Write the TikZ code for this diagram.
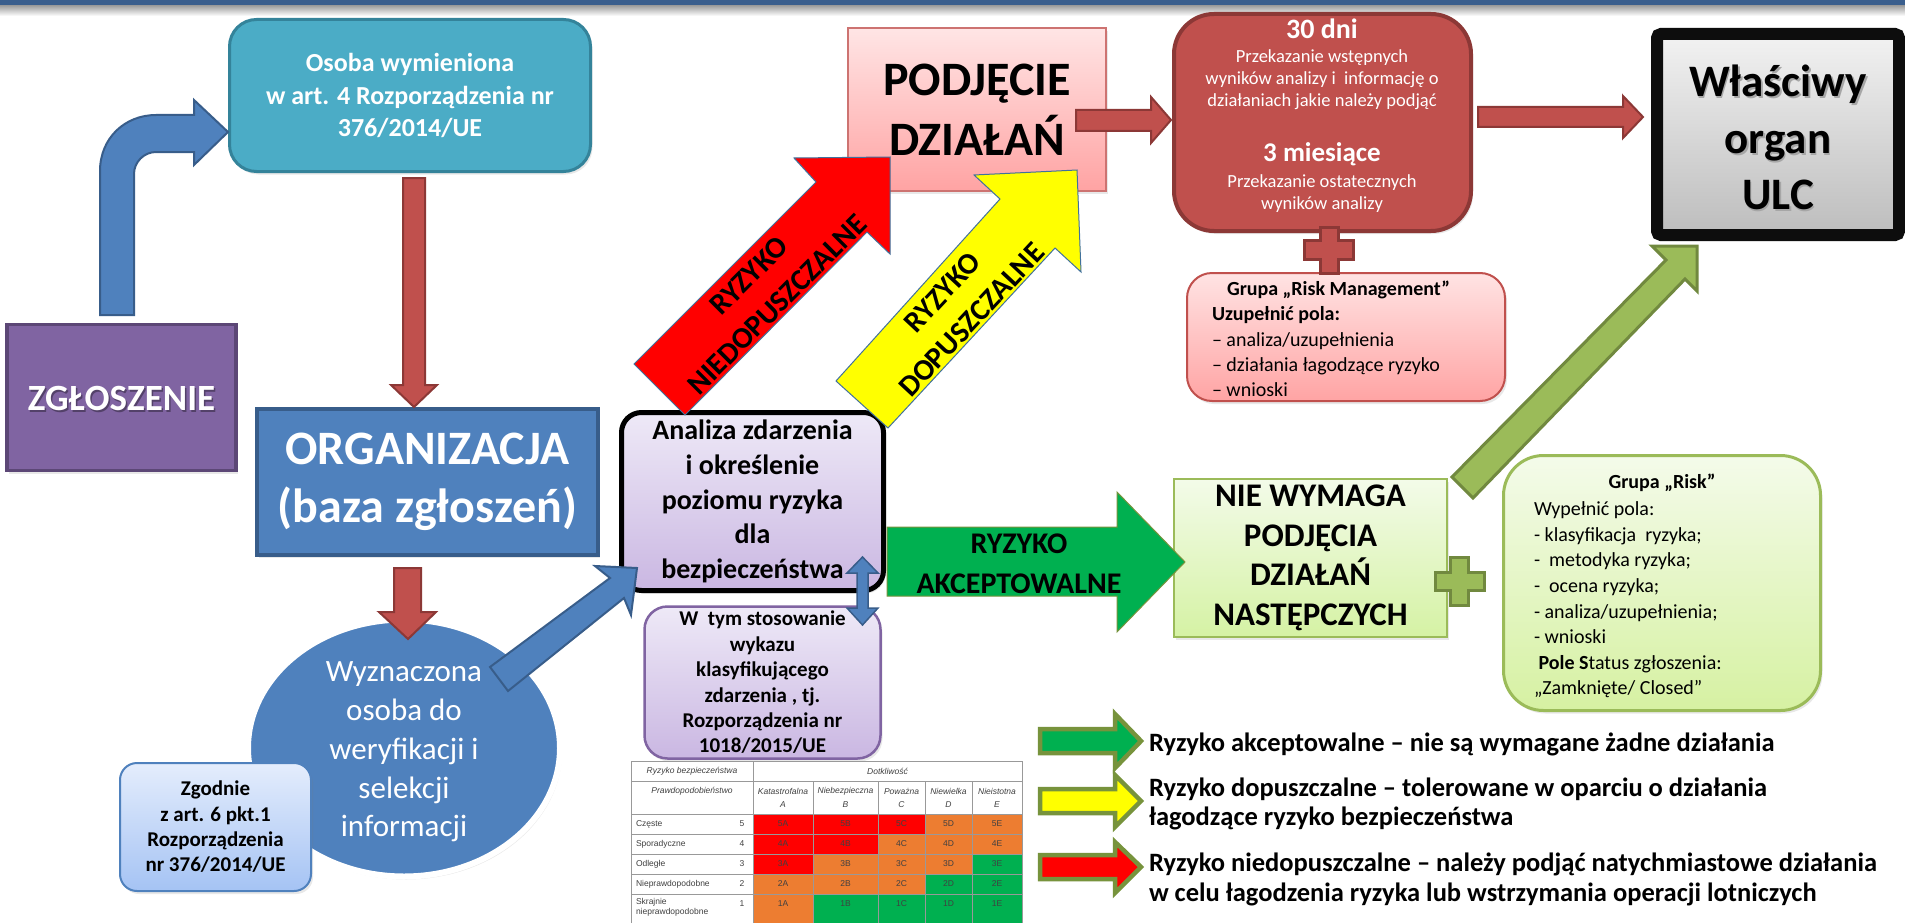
\documentclass[tikz,border=0pt]{standalone}
\usepackage{fontspec}
\setmainfont{Carlito}
\newfontfamily\tabfont{Liberation Sans}
\usetikzlibrary{shadows,shapes.geometric}
\definecolor{topbar}{HTML}{3A5E8D}
\definecolor{osobaF}{HTML}{4BACC6}
\definecolor{osobaD}{HTML}{34839A}
\definecolor{blueF}{HTML}{4F81BD}
\definecolor{blueD}{HTML}{385D8A}
\definecolor{purF}{HTML}{8064A2}
\definecolor{purD}{HTML}{5C4776}
\definecolor{redF}{HTML}{C0504D}
\definecolor{redD}{HTML}{8C3836}
\definecolor{greenF}{HTML}{9BBB59}
\definecolor{greenD}{HTML}{71893F}
\definecolor{accG}{HTML}{00B050}
\definecolor{legOlive}{HTML}{77933C}
\definecolor{mxRed}{HTML}{FF0000}
\definecolor{mxOr}{HTML}{ED7D31}
\definecolor{mxGr}{HTML}{00B050}
\definecolor{yel}{HTML}{FFFF00}
\definecolor{arrEdge}{HTML}{41719C}
\definecolor{pdTop}{HTML}{FFE5E5}
\definecolor{pdBot}{HTML}{FFA3A3}
\definecolor{anTop}{HTML}{EEE9F7}
\definecolor{anBot}{HTML}{CAB7E2}
\definecolor{zgTop}{HTML}{E4EDFC}
\definecolor{zgBot}{HTML}{A5C3F4}
\definecolor{rmTop}{HTML}{FFE3E3}
\definecolor{rmBot}{HTML}{FFA4A4}
\definecolor{wlTop}{HTML}{F2F2F2}
\definecolor{wlBot}{HTML}{BDBDBD}
\definecolor{wlBorder}{HTML}{0D0D0D}
\definecolor{nwTop}{HTML}{F3FBE9}
\definecolor{nwBot}{HTML}{D5F2A4}
\definecolor{grTop}{HTML}{F4FBEA}
\definecolor{grBot}{HTML}{D6F1A2}
\newcommand\FS[2]{\fontsize{#1}{#2}\selectfont}
\tikzset{
  every node/.style={inner sep=0pt, outer sep=0pt},
  shd/.style={drop shadow={shadow xshift=2pt, shadow yshift=-3pt, opacity=0.18}},
  boxnode/.style={rectangle, align=center},
  barrow/.style={line width=2pt, line join=miter},
  legarrow/.style={draw=legOlive, line width=4.5pt, line join=miter},
  plussign/.style={fill=#1F, draw=#1D, line width=3pt},
  tabline/.style={draw=black!40, line width=0.8pt},
}
\begin{document}
\begin{tikzpicture}[x=1pt,y=-1pt]
\useasboundingbox (0,0) rectangle (1905,923);
\fill[white] (0,0) rectangle (1905,923);
% top bar
\shade[top color=black!40, bottom color=white] (0,5) rectangle (1905,16);
\fill[topbar] (0,0) rectangle (1905,5);

% ---------- boxes ----------
\node[boxnode, shd, fill=osobaF, draw=osobaD, line width=3pt, rounded corners=27pt,
  minimum width=361pt, minimum height=152pt, text=white, font=\FS{26}{32.5}\bfseries]
  (osoba) at (410,95.5) {Osoba wymieniona\\w art. 4 Rozporządzenia nr\\376/2014/UE};

\node[boxnode, shd, fill=purF, draw=purD, line width=3.5pt,
  minimum width=229pt, minimum height=146pt] (zgl) at (121.5,397.5) {};
\node[text=black, opacity=0.35, font=\FS{37}{40}\bfseries] (zglsh) at (123,400) {ZGŁOSZENIE};
\node[text=white, font=\FS{37}{40}\bfseries] (zgltxt) at (121.5,398.5) {ZGŁOSZENIE};

\node[boxnode, shd, fill=blueF, draw=blueD, line width=3.5pt,
  minimum width=341pt, minimum height=146pt, text=white, font=\FS{48}{58}\bfseries]
  (org) at (427.5,482) {ORGANIZACJA\\(baza zgłoszeń)};

\node[ellipse, shd, fill=blueF, draw=white, line width=6pt,
  minimum width=312pt, minimum height=257pt] (osw) at (404,748) {};
\node[text=white, align=center, font=\FS{31}{38.75}] (oswtxt) at (404,752)
  {Wyznaczona\\osoba do\\weryfikacji i\\selekcji\\informacji};

\node[boxnode, shd, top color=zgTop, bottom color=zgBot, draw=blueF, line width=2pt,
  rounded corners=17pt, minimum width=191pt, minimum height=128pt, font=\FS{21}{25.3}\bfseries]
  (zgod) at (215.5,827) {Zgodnie\\z art. 6 pkt.1\\Rozporządzenia\\nr 376/2014/UE};

\node[boxnode, shd, top color=anTop, bottom color=anBot, draw=black, line width=5pt,
  rounded corners=20pt, minimum width=262pt, minimum height=178pt, font=\FS{28}{34.75}\bfseries]
  (anal) at (752.5,501.5) {Analiza zdarzenia\\i określenie\\poziomu ryzyka\\dla\\bezpieczeństwa};

\node[boxnode, shd, top color=anTop, bottom color=anBot, draw=purF, line width=2.5pt,
  rounded corners=23pt, minimum width=236pt, minimum height=152pt, font=\FS{21}{25.4}\bfseries]
  (wtym) at (762.5,682.5) {W\ \ tym stosowanie\\wykazu\\klasyfikującego\\zdarzenia , tj.\\Rozporządzenia nr\\1018/2015/UE};

\node[boxnode, shd, top color=pdTop, bottom color=pdBot, draw=redF!80, line width=1.5pt,
  minimum width=258pt, minimum height=163pt, font=\FS{48}{60}\bfseries]
  (podj) at (977,109.5) {PODJĘCIE\\DZIAŁAŃ};

\node[boxnode, shd, fill=redF, draw=redD, line width=4pt, rounded corners=40pt,
  minimum width=297pt, minimum height=217pt] (dni) at (1322.5,122.5) {};
\node[text=white, font=\FS{28}{30}\bfseries] (t30) at (1322,29) {30 dni};
\node[text=white, align=center, font=\FS{18.5}{22}] (t30a) at (1322,80)
  {Przekazanie wstępnych\\wyników analizy i\ \ informację o\\działaniach jakie należy podjąć};
\node[text=white, font=\FS{27}{30}\bfseries] (t3m) at (1322,154) {3 miesiące};
\node[text=white, align=center, font=\FS{18.5}{22}] (t3ma) at (1322,194)
  {Przekazanie ostatecznych\\wyników analizy};

\node[boxnode, shd, top color=rmTop, bottom color=rmBot, draw=redF, line width=2pt,
  rounded corners=25pt, minimum width=318pt, minimum height=128pt] (rm) at (1346,337) {};
\node[anchor=west, align=left, font=\FS{20}{25.25}] (rmtxt) at (1212,339)
  {\hspace*{15pt}\textbf{Grupa „Risk Management”}\\\textbf{Uzupełnić pola:}\\– analiza/uzupełnienia\\– działania łagodzące ryzyko\\– wnioski};

\node[boxnode, shd, top color=wlTop, bottom color=wlBot, draw=wlBorder, line width=12pt,
  rounded corners=4pt, minimum width=242pt, minimum height=201pt] (wlas) at (1778,134.5) {};
\node[text=black!35, align=center, font=\FS{45}{56.5}\bfseries] (wlsh) at (1779.5,139.5)
  {Właściwy\\organ\\ULC};
\node[align=center, font=\FS{45}{56.5}\bfseries] (wltxt) at (1778,137.5) {Właściwy\\organ\\ULC};

\node[boxnode, shd, top color=nwTop, bottom color=nwBot, draw=greenF, line width=2pt,
  minimum width=273pt, minimum height=158pt, font=\FS{33}{39.5}\bfseries]
  (nie) at (1310.5,558) {NIE WYMAGA\\PODJĘCIA\\DZIAŁAŃ\\NASTĘPCZYCH};

\node[boxnode, shd, top color=grTop, bottom color=grBot, draw=greenF, line width=3pt,
  rounded corners=40pt, minimum width=317pt, minimum height=255pt] (grisk) at (1662,583) {};
\node[font=\FS{20}{25.6}\bfseries] (grt) at (1662,483) {Grupa „Risk”};
\node[anchor=west, align=left, font=\FS{20}{25.6}] (grl) at (1534,600)
  {Wypełnić pola:\\- klasyfikacja\ \ ryzyka;\\-\ \ metodyka ryzyka;\\-\ \ ocena ryzyka;\\- analiza/uzupełnienia;\\- wnioski\\\ \textbf{Pole S}tatus zgłoszenia:\\„Zamknięte/ Closed”};

% ---------- risk matrix ----------
\begin{scope}[font=\tabfont\FS{8.5}{10}, text=black!75]
\fill[white] (631,761) rectangle (1022,930);
\foreach \r/\ya/\yb/\ym/\cA/\cB/\cC/\cD/\cE in {
  5/814/834/824/mxRed/mxRed/mxRed/mxOr/mxOr,
  4/834/854/844/mxRed/mxRed/mxOr/mxOr/mxOr,
  3/854/874/864/mxRed/mxOr/mxOr/mxOr/mxGr,
  2/874/894/884/mxOr/mxOr/mxOr/mxGr/mxGr,
  1/894/930/904/mxOr/mxGr/mxGr/mxGr/mxGr}{
  \fill[\cA] (753,\ya) rectangle (813,\yb);
  \fill[\cB] (813,\ya) rectangle (878,\yb);
  \fill[\cC] (878,\ya) rectangle (925,\yb);
  \fill[\cD] (925,\ya) rectangle (972,\yb);
  \fill[\cE] (972,\ya) rectangle (1022,\yb);
  \node (cA\r) at (783,\ym) {\r A};
  \node (cB\r) at (845.5,\ym) {\r B};
  \node (cC\r) at (901.5,\ym) {\r C};
  \node (cD\r) at (948.5,\ym) {\r D};
  \node (cE\r) at (997,\ym) {\r E};
  \node (n\r) at (742,\ym) {\r};
}
\draw[tabline] (631,761) rectangle (1022,930);
\foreach \yy in {781,814,834,854,874,894} \draw[tabline] (631,\yy) -- (1022,\yy);
\draw[tabline] (753,761) -- (753,930);
\foreach \xx in {813,878,925,972} \draw[tabline] (\xx,781) -- (\xx,930);
\node[font=\tabfont\itshape\FS{8.5}{10}] (hRB) at (692,771) {Ryzyko bezpieczeństwa};
\node[font=\tabfont\itshape\FS{8.5}{10}] (hDot) at (887.5,771) {Dotkliwość};
\node[font=\tabfont\itshape\FS{8.5}{10}] (hPr) at (692,791) {Prawdopodobieństwo};
\foreach \nm/\lt/\xc in {Katastrofalna/A/783, Niebezpieczna/B/845.5, Poważna/C/901.5, Niewielka/D/948.5, Nieistotna/E/997}{
  \node[font=\tabfont\itshape\FS{8.5}{10}] (h\lt) at (\xc,791) {\nm};
  \node[font=\tabfont\itshape\FS{8.5}{10}] (hl\lt) at (\xc,805) {\lt};
}
\node[anchor=west] (r5) at (636,824) {Częste};
\node[anchor=west] (r4) at (636,844) {Sporadyczne};
\node[anchor=west] (r3) at (636,864) {Odległe};
\node[anchor=west] (r2) at (636,884) {Nieprawdopodobne};
\node[anchor=north west, align=left] (r1) at (636,898) {Skrajnie\\nieprawdopodobne};
\end{scope}

% ---------- block arrows ----------
% bent arrow ZGLOSZENIE -> Osoba
\draw[barrow, fill=blueF, draw=blueD] (100,315) -- (100,171) .. controls (100,138) and (125,115) .. (156,115)
  -- (194,115) -- (194,100) -- (228,132) -- (194,165) -- (194,152) -- (156,152)
  .. controls (144,152) and (134,162) .. (134,174) -- (134,315) -- cycle;
% Osoba -> ORGANIZACJA
\draw[barrow, fill=redF, draw=redD] (403,178) -- (425,178) -- (425,385) -- (437,385) -- (414,407) -- (391,385) -- (403,385) -- cycle;
% ORGANIZACJA -> circle
\draw[barrow, fill=redF, draw=redD] (394,568) -- (421,568) -- (421,612) -- (436,612) -- (408,639) -- (379,612) -- (394,612) -- cycle;
% circle -> Analiza
\draw[barrow, fill=blueF, draw=blueD] (490,667) -- (610,578) -- (595,566) -- (637,568) -- (631,615) -- (624,598) -- (508,691) -- cycle;
% double arrow Analiza <-> W tym
\draw[line width=1.5pt, fill=blueF, draw=blueD] (857,573) -- (847,573) -- (862.5,557) -- (878,573) -- (868,573) -- (868,608) -- (878,608) -- (862.5,625) -- (847,608) -- (857,608) -- cycle;
% red: niedopuszczalne
\draw[line width=1pt, fill=mxRed, draw=arrEdge] (634,364) -- (816,182) -- (794,158) -- (890,157) -- (890,254) -- (867,232) -- (685,415) -- cycle;
\node[rotate=45, align=center, font=\FS{30}{40}\bfseries] (tNied) at (763,290) {RYZYKO\\NIEDOPUSZCZALNE};
% yellow: dopuszczalne
\draw[line width=1pt, fill=yel, draw=arrEdge] (836,381) -- (1000,199) -- (974,175) -- (1077,170) -- (1081,272) -- (1055,248) -- (888,428) -- cycle;
\node[rotate=47, align=center, font=\FS{30}{40}\bfseries] (tDop) at (957,306) {RYZYKO\\DOPUSZCZALNE};
% PODJECIE -> 30 dni
\draw[barrow, fill=redF, draw=redD] (1076,110) -- (1151,110) -- (1151,97) -- (1171,120) -- (1151,143) -- (1151,131) -- (1076,131) -- cycle;
% 30 dni -> Wlasciwy
\draw[barrow, fill=redF, draw=redD] (1478,107) -- (1623,107) -- (1623,96) -- (1643,117) -- (1623,138) -- (1623,127) -- (1478,127) -- cycle;
% green big: akceptowalne
\draw[line width=1pt, fill=accG, draw=legOlive] (887,527) -- (1117,527) -- (1117,492) -- (1185,562) -- (1117,632) -- (1117,596) -- (887,596) -- cycle;
\node[align=center, font=\FS{30}{40}\bfseries] (tAkc) at (1019,564) {RYZYKO\\AKCEPTOWALNE};
% NIE WYMAGA -> Wlasciwy
\draw[line width=3pt, line join=miter, fill=greenF, draw=greenD] (1452,477) -- (1666,260) -- (1652,246) -- (1697,246) -- (1697,291) -- (1685,279) -- (1473,498) -- cycle;
% plus signs
\draw[plussign=red] (1320,227) -- (1338,227) -- (1338,240) -- (1353,240) -- (1353,259) -- (1338,259) -- (1338,273) -- (1320,273) -- (1320,259) -- (1304,259) -- (1304,240) -- (1320,240) -- cycle;
\draw[plussign=green] (1450,557) -- (1468,557) -- (1468,572) -- (1484,572) -- (1484,590) -- (1468,590) -- (1468,605) -- (1450,605) -- (1450,590) -- (1435,590) -- (1435,572) -- (1450,572) -- cycle;

% ---------- legend ----------
\draw[legarrow, fill=accG] (1040,729) -- (1115,729) -- (1115,714) -- (1141,741) -- (1115,768) -- (1115,753) -- (1040,753) -- cycle;
\draw[legarrow, fill=yel] (1040,789) -- (1115,789) -- (1115,775) -- (1141,801) -- (1115,827) -- (1115,813) -- (1040,813) -- cycle;
\draw[legarrow, fill=mxRed] (1040,855) -- (1115,855) -- (1115,842) -- (1141,867) -- (1115,893) -- (1115,879) -- (1040,879) -- cycle;
\node[anchor=west, font=\FS{26.5}{29.5}\bfseries] (leg1) at (1149,744) {Ryzyko akceptowalne – nie są wymagane żadne działania};
\node[anchor=west, align=left, font=\FS{26.5}{29.5}\bfseries] (leg2) at (1149,804) {Ryzyko dopuszczalne – tolerowane w oparciu o działania\\łagodzące ryzyko bezpieczeństwa};
\node[anchor=west, align=left, font=\FS{26.5}{30}\bfseries] (leg3) at (1149,879) {Ryzyko niedopuszczalne – należy podjąć natychmiastowe działania\\w celu łagodzenia ryzyka lub wstrzymania operacji lotniczych};
\end{tikzpicture}
\end{document}
